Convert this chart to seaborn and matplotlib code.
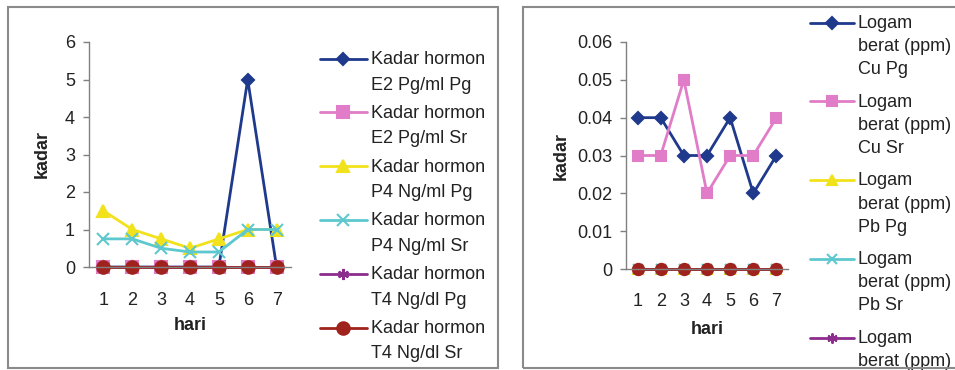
import matplotlib
matplotlib.use("Agg")
import matplotlib.pyplot as plt
import seaborn as sns
from matplotlib.patches import Rectangle
from matplotlib.ticker import FixedLocator, NullFormatter

# hari ke-
days = [1, 2, 3, 4, 5, 6, 7]

# left panel: kadar hormon
hormon_labels = [
    "Kadar hormon\nE2 Pg/ml Pg",
    "Kadar hormon\nE2 Pg/ml Sr",
    "Kadar hormon\nP4 Ng/ml Pg",
    "Kadar hormon\nP4 Ng/ml Sr",
    "Kadar hormon\nT4 Ng/dl Pg",
    "Kadar hormon\nT4 Ng/dl Sr",
]
e2_pg = [0, 0, 0, 0, 0, 5, 0]
e2_sr = [0, 0, 0, 0, 0, 0, 0]
p4_pg = [1.5, 1.0, 0.75, 0.5, 0.75, 1.0, 1.0]
p4_sr = [0.75, 0.75, 0.5, 0.4, 0.4, 1.0, 1.0]
t4_pg = [0, 0, 0, 0, 0, 0, 0]
t4_sr = [0, 0, 0, 0, 0, 0, 0]
hormon_yticks = [0, 1, 2, 3, 4, 5, 6]
hormon_yticklabels = ["0", "1", "2", "3", "4", "5", "6"]

# right panel: logam berat
logam_labels = [
    "Logam\nberat (ppm)\nCu Pg",
    "Logam\nberat (ppm)\nCu Sr",
    "Logam\nberat (ppm)\nPb Pg",
    "Logam\nberat (ppm)\nPb Sr",
    "Logam\nberat (ppm)\nCd Pg",
    "Logam\nberat (ppm)\nCd Sr",
]
cu_pg = [0.04, 0.04, 0.03, 0.03, 0.04, 0.02, 0.03]
cu_sr = [0.03, 0.03, 0.05, 0.02, 0.03, 0.03, 0.04]
pb_pg = [0, 0, 0, 0, 0, 0, 0]
pb_sr = [0, 0, 0, 0, 0, 0, 0]
cd_pg = [0, 0, 0, 0, 0, 0, 0]
cd_sr = [0, 0, 0, 0, 0, 0, 0]
logam_yticks = [0, 0.01, 0.02, 0.03, 0.04, 0.05, 0.06]
logam_yticklabels = ["0", "0.01", "0.02", "0.03", "0.04", "0.05", "0.06"]

colors = ["#1f3a8c", "#e07cc8", "#f2e21c", "#5ec8cf", "#8c2c8c", "#a0221c"]
markers = ["D", "s", "^", "x", (6, 2, 0), "o"]
msizes = [6.5, 8, 8, 8, 8, 9]

sns.set_style("white")
plt.rcParams["font.family"] = ["Liberation Sans", "DejaVu Sans"]
plt.rcParams["font.size"] = 13

fig = plt.figure(figsize=(9.55, 3.70), dpi=100)

# outer frames around each chart
fig.patches.append(Rectangle((8 / 955, 2 / 370), 490 / 955, 361 / 370, transform=fig.transFigure,
                             fill=False, edgecolor="#8a8a8a", linewidth=1.5))
fig.patches.append(Rectangle((523 / 955, 2 / 370), 460 / 955, 361 / 370, transform=fig.transFigure,
                             fill=False, edgecolor="#8a8a8a", linewidth=1.5))


def draw_panel(ax, series, labels, yticks, yticklabels, xpad, msize_scale):
    for vals, lab, col, mk, ms in zip(series, labels, colors, markers, msizes):
        sns.lineplot(x=days, y=vals, ax=ax, color=col, marker=mk, markersize=ms * msize_scale,
                     markeredgecolor=col, markeredgewidth=1.5, linewidth=2, label=lab, clip_on=False)
    ax.set_xlim(0.5, 7.5)
    ax.set_ylim(yticks[0], yticks[-1])
    ax.set_yticks(yticks)
    ax.set_yticklabels(yticklabels)
    ax.set_xticks(days)
    ax.set_xticklabels([str(d) for d in days])
    ax.xaxis.set_minor_locator(FixedLocator([d + 0.5 for d in [0] + days]))
    ax.xaxis.set_minor_formatter(NullFormatter())
    ax.tick_params(axis="x", which="major", length=0, pad=xpad, colors="#222222", labelsize=13)
    ax.tick_params(axis="x", which="minor", length=4, width=1, color="#808080", direction="out")
    ax.tick_params(axis="y", length=4, width=1, color="#808080", pad=6, labelcolor="#222222",
                   labelsize=13, left=True)
    sns.despine(ax=ax)
    for side in ["left", "bottom"]:
        ax.spines[side].set_color("#808080")
        ax.spines[side].set_linewidth(1)
    ax.set_xlabel("hari", fontweight="bold", fontsize=13, color="#222222")
    ax.set_ylabel("kadar", fontweight="bold", fontsize=13, color="#222222")
    ax.patch.set_alpha(0)


ax1 = fig.add_axes([89 / 955, 1 - 267 / 370, 202 / 955, 225 / 370])
draw_panel(ax1, [e2_pg, e2_sr, p4_pg, p4_sr, t4_pg, t4_sr], hormon_labels,
           hormon_yticks, hormon_yticklabels, xpad=18, msize_scale=1.0)
ax1.xaxis.labelpad = 6
ax1.yaxis.labelpad = 10

ax2 = fig.add_axes([626 / 955, 1 - 269 / 370, 162 / 955, 227 / 370])
draw_panel(ax2, [cu_pg, cu_sr, pb_pg, pb_sr, cd_pg, cd_sr], logam_labels,
           logam_yticks, logam_yticklabels, xpad=17, msize_scale=0.9)
ax2.xaxis.labelpad = 8
ax2.yaxis.labelpad = 5


def place_legend(ax, x, y, linesp, labsp, hlen):
    h, l = ax.get_legend_handles_labels()
    leg = ax.legend(h, l, loc="upper left", bbox_to_anchor=(x, y), bbox_transform=fig.transFigure,
                    frameon=False, borderpad=0, borderaxespad=0, handlelength=hlen,
                    handletextpad=0.2, labelspacing=labsp, handleheight=1.2, fontsize=13)
    for t in leg.get_texts():
        t.set_linespacing(linesp)
        t.set_color("#222222")
    # put the handle next to the first line of each label
    for col in leg._legend_handle_box.get_children():
        for item in col.get_children():
            item.align = "top"
    return leg


place_legend(ax1, 320 / 955, 1 - 51 / 370, 1.66, 0.62, 2.6)
place_legend(ax2, 810 / 955, 1 - 15 / 370, 1.47, 0.86, 2.45)

fig.savefig("out.png", dpi=100, facecolor="white")
